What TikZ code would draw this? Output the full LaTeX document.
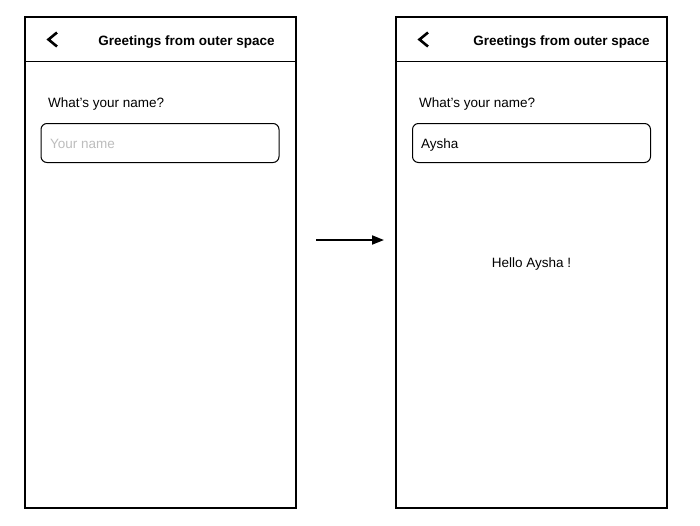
\documentclass[tikz,border=0pt]{standalone}
\usepackage{fontspec}
\setmainfont{Liberation Sans}
\usetikzlibrary{arrows.meta}
\definecolor{hint}{HTML}{BDBDBD}
\begin{document}
\begin{tikzpicture}[x=1pt,y=-1pt,
  screen/.style={draw=black,line width=1.1pt,rectangle,minimum width=271pt,minimum height=491pt,inner sep=0pt},
  field/.style={draw=black,line width=1pt,rectangle,rounded corners=6pt,minimum width=238pt,minimum height=39pt,inner sep=0pt},
  lbl/.style={inner sep=0pt,font=\fontsize{13.5pt}{16pt}\selectfont},
  ttl/.style={lbl,font=\fontsize{13.5pt}{16pt}\selectfont\bfseries},
  chev/.style={line width=2.6pt,line join=miter},
  flow/.style={line width=1.8pt,-{Triangle[length=12pt,width=9pt]}}]
\useasboundingbox[fill=white] (0,0) rectangle (700,525);
% left screen
\node[screen] (s1) at (160.5,262.5) {};
\coordinate (h1a) at (25,61.5);
\coordinate (h1b) at (296,61.5);
\draw[line width=1pt] (h1a) -- (h1b);
\coordinate (c1a) at (57,32.5);
\coordinate (c1b) at (48.5,39.5);
\coordinate (c1c) at (57,46.5);
\draw[chev] (c1a) -- (c1b) -- (c1c);
\node[ttl,anchor=base] (t1) at (186.5,45.5) {Greetings from outer space};
\node[lbl,anchor=base west] (q1) at (48,107) {What’s your name?};
\node[field] (f1) at (160,143) {};
\node[lbl,anchor=base west,text=hint] (p1) at (50,148) {Your name};
% right screen
\node[screen] (s2) at (531.5,262.5) {};
\coordinate (h2a) at (396,61.5);
\coordinate (h2b) at (667,61.5);
\draw[line width=1pt] (h2a) -- (h2b);
\coordinate (c2a) at (428,32.5);
\coordinate (c2b) at (419.5,39.5);
\coordinate (c2c) at (428,46.5);
\draw[chev] (c2a) -- (c2b) -- (c2c);
\node[ttl,anchor=base] (t2) at (561.5,45.5) {Greetings from outer space};
\node[lbl,anchor=base west] (q2) at (419,107) {What’s your name?};
\node[field] (f2) at (531.5,143) {};
\node[lbl,anchor=base west] (p2) at (421,148) {Aysha};
\node[lbl] (hello) at (531.5,264) {Hello Aysha !};
% arrow
\coordinate (a1) at (316,240);
\coordinate (a2) at (384,240);
\draw[flow] (a1) -- (a2);
\end{tikzpicture}
\end{document}
